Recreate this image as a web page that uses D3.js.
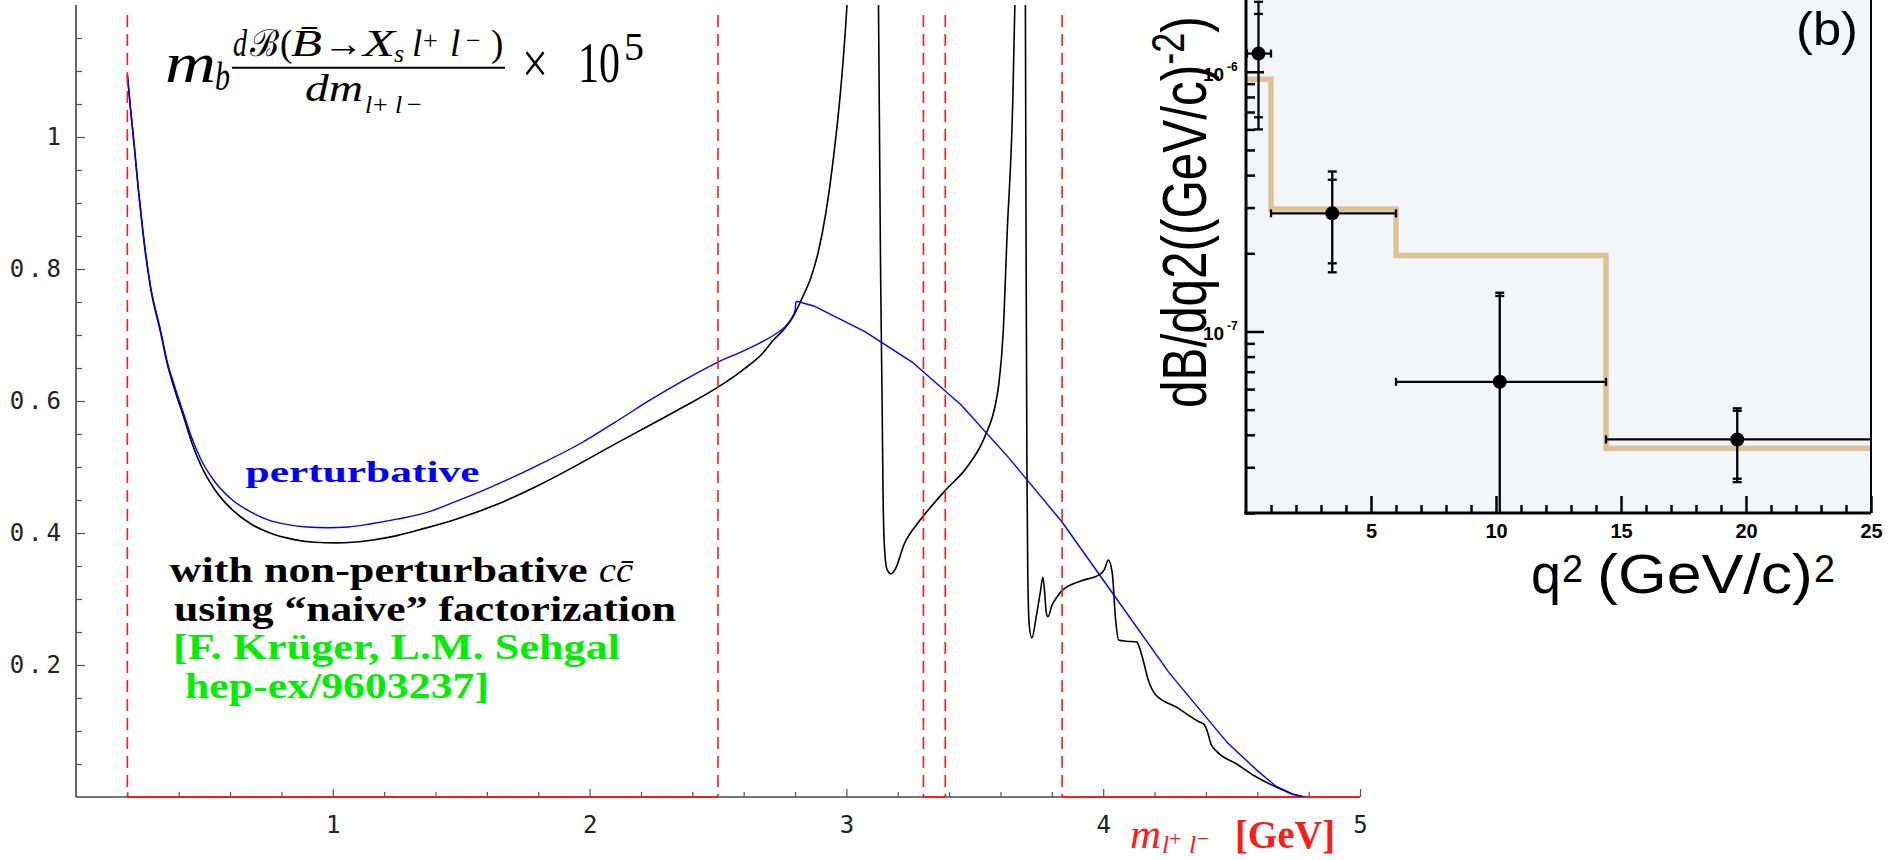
<!DOCTYPE html>
<html>
<head>
<meta charset="utf-8">
<script src="https://cdn.jsdelivr.net/npm/d3@7"></script>
<style>
  body { margin: 0; background: #fff; }
  svg { display: block; }
</style>
</head>
<body>
<div class="canvas"></div>
<script>
// ---- data, left panel: dB/dm spectrum (x 1e5) ----
const mass_full = [0.2, 0.213, 0.226, 0.243, 0.261, 0.29, 0.33, 0.355, 0.382, 0.42, 0.45, 0.487, 0.54, 0.609, 0.68, 0.748, 0.85, 0.93, 1.01,
  1.15, 1.25, 1.357, 1.48, 1.618, 1.8, 1.966, 2.1, 2.238, 2.37, 2.5, 2.6, 2.673, 2.715, 2.76, 2.79, 2.83, 2.86, 2.89, 2.92, 2.95,
  2.975, 2.99, 3.005, 3.03, 3.097, 3.12, 3.125, 3.133, 3.139, 3.143, 3.148, 3.158, 3.174, 3.19, 3.226, 3.278, 3.296, 3.386,
  3.47, 3.539, 3.583, 3.594, 3.61, 3.626, 3.648, 3.656, 3.672, 3.686, 3.695, 3.697, 3.700, 3.703, 3.706, 3.712, 3.722, 3.74, 3.755,
  3.765, 3.772, 3.778, 3.785, 3.80, 3.82, 3.838, 3.91, 3.985, 4.005, 4.02, 4.035, 4.048, 4.06, 4.09, 4.13, 4.15, 4.175, 4.20, 4.29,
  4.373, 4.393, 4.405, 4.42, 4.445, 4.52, 4.585, 4.68, 4.74, 4.782];
const rate_full = [1.094, 1.04, 0.99, 0.92, 0.854, 0.772, 0.703, 0.657, 0.62, 0.575, 0.538, 0.502, 0.466, 0.435, 0.414, 0.401, 0.39, 0.386, 0.385,
  0.389, 0.396, 0.407, 0.421, 0.44, 0.472, 0.506, 0.535, 0.564, 0.592, 0.621, 0.648, 0.672, 0.692, 0.71, 0.726, 0.758, 0.785, 0.825, 0.885, 0.97,
  1.06, 1.13, 1.22, 1.5, 4.0, 1.6, 1.2, 0.8, 0.6, 0.45, 0.38, 0.345, 0.338, 0.345, 0.384, 0.415, 0.424, 0.465,
  0.50, 0.546, 0.60, 0.627, 0.70, 0.854, 1.056, 1.2, 1.6, 4.0, 1.6, 1.2, 0.8, 0.5, 0.35, 0.26, 0.241, 0.275, 0.31,
  0.333, 0.31, 0.28, 0.273, 0.29, 0.303, 0.312, 0.327, 0.337, 0.345, 0.359, 0.34, 0.27, 0.238, 0.236, 0.235, 0.215, 0.178, 0.157, 0.135,
  0.114, 0.11, 0.1, 0.08, 0.068, 0.05, 0.033, 0.014, 0.004, 0];

const mass_pert = [0.2, 0.213, 0.226, 0.243, 0.261, 0.29, 0.33, 0.355, 0.382, 0.42, 0.45, 0.487, 0.54, 0.609, 0.68, 0.748, 0.82, 0.9, 0.98,
  1.06, 1.15, 1.25, 1.357, 1.48, 1.618, 1.8, 1.966, 2.1, 2.238, 2.37, 2.5, 2.6, 2.673, 2.73, 2.76, 2.79, 2.80, 2.803, 2.807, 2.873,
  3.072, 3.256, 3.447, 3.63, 3.839, 4.047, 4.257, 4.484, 4.6, 4.674, 4.74, 4.785];
const rate_pert = [1.094, 1.04, 0.99, 0.92, 0.856, 0.775, 0.706, 0.66, 0.625, 0.58, 0.545, 0.511, 0.478, 0.45, 0.432, 0.42, 0.413, 0.409, 0.408,
  0.409, 0.414, 0.421, 0.43, 0.448, 0.47, 0.503, 0.536, 0.568, 0.602, 0.632, 0.659, 0.676, 0.690, 0.703, 0.712, 0.728, 0.737, 0.750, 0.751, 0.744,
  0.705, 0.659, 0.594, 0.515, 0.417, 0.303, 0.188, 0.082, 0.04, 0.016, 0.004, 0];

const cut_lines = [0.2, 2.5, 3.3, 3.385, 3.84];
const kept_windows = [[0.2, 2.5], [3.3, 3.385], [3.84, 5]];
const x_ticks_left = [1, 2, 3, 4, 5];
const y_ticks_left = [0.2, 0.4, 0.6, 0.8, 1.0];

// ---- data, right panel (b): dB/dq2 ----
const bin_edges = [0, 1, 6, 14.4, 25];
const bin_values = [9.35e-7, 2.96e-7, 1.96e-7, 3.55e-8];
const q2_center = [0.5, 3.45, 10.15, 19.65];
const q2_lo = [0.04, 1, 6, 14.4];
const q2_hi = [1, 6, 14.4, 25];
const dB_value = [1.175e-6, 2.85e-7, 6.4e-8, 3.84e-8];
const stat_lo = [6.68e-7, 1.83e-7, 1e-9, 2.71e-8];
const stat_hi = [1.67e-6, 3.84e-7, 1.37e-7, 4.95e-8];
const tot_lo = [6.0e-7, 1.69e-7, 1e-9, 2.63e-8];
const tot_hi = [1.86e-6, 4.13e-7, 1.41e-7, 5.06e-8];
const q2_ticks = [5, 10, 15, 20, 25];
const decade_ticks = [1e-7, 1e-6];
const decade_labels = ["-7", "-6"];

// Settings
const view_port_width = 1900;
const view_port_height = 860;
const serif = "'Liberation Serif', 'DejaVu Serif', serif";
const sans = "'Liberation Sans', Arial, sans-serif";
const mono = "'DejaVu Sans Mono', monospace";
const red = "#ff1a1a";
const green = "#00ee00";

const svg = d3.select(".canvas").append("svg")
  .attr("width", view_port_width)
  .attr("height", view_port_height);

function add_text(x, y, str, size, opts) {
  var t = svg.append("text")
    .attr("x", x).attr("y", y)
    .attr("font-size", size + "px")
    .attr("font-family", serif)
    .text(str);
  for (var k in opts) t.attr(k, opts[k]);
  return t;
}
function fit(len, extra) {
  return Object.assign({ textLength: len, lengthAdjust: "spacingAndGlyphs" }, extra || {});
}

// ================= left panel =================
var xScale = d3.scaleLinear().domain([0, 5]).range([76, 1360]);
var yScale = d3.scaleLinear().domain([0, 1.2]).range([797, 5]);

svg.append("defs").append("clipPath").attr("id", "clip-left")
  .append("rect")
  .attr("x", xScale(0)).attr("y", yScale(1.2))
  .attr("width", xScale(5) - xScale(0)).attr("height", yScale(0) - yScale(1.2));

// x axis line (grey) with red allowed windows
svg.append("line")
  .attr("x1", xScale(0)).attr("x2", xScale(5))
  .attr("y1", yScale(0)).attr("y2", yScale(0))
  .attr("stroke", "#777").attr("stroke-width", 2);
svg.selectAll("line.window").data(kept_windows).enter().append("line")
  .attr("class", "window")
  .attr("x1", d => xScale(d[0])).attr("x2", d => xScale(d[1]))
  .attr("y1", yScale(0)).attr("y2", yScale(0))
  .attr("stroke", red).attr("stroke-width", 2);

// y axis line
svg.append("line")
  .attr("x1", xScale(0)).attr("x2", xScale(0))
  .attr("y1", yScale(0)).attr("y2", yScale(1.2))
  .attr("stroke", "#333").attr("stroke-width", 1.5);

// minor / major ticks via d3 axes
var minor_x = d3.range(1, 25).map(i => i * 0.2).filter(v => Math.abs(v - Math.round(v)) > 1e-6);
svg.append("g").attr("transform", `translate(0,${yScale(0)})`)
  .call(d3.axisBottom(xScale).tickValues(minor_x).tickSize(-5).tickFormat(""))
  .call(g => g.select(".domain").remove())
  .call(g => g.selectAll("line").attr("stroke", "#555").attr("stroke-width", 1.2));
svg.append("g").attr("transform", `translate(0,${yScale(0)})`)
  .call(d3.axisBottom(xScale).tickValues(x_ticks_left).tickSize(-8).tickPadding(19).tickFormat(d3.format("d")))
  .call(g => g.select(".domain").remove())
  .call(g => g.selectAll("line").attr("stroke", "#555").attr("stroke-width", 1.2))
  .call(g => g.selectAll("text").attr("font-family", mono).attr("font-size", "24px").attr("fill", "#222"));

var minor_y = d3.range(1, 24).map(i => i * 0.05).filter((v, i) => (i + 1) % 4 != 0);
svg.append("g").attr("transform", `translate(${xScale(0)},0)`)
  .call(d3.axisLeft(yScale).tickValues(minor_y).tickSize(-6).tickFormat(""))
  .call(g => g.select(".domain").remove())
  .call(g => g.selectAll("line").attr("stroke", "#555").attr("stroke-width", 1.2));
svg.append("g").attr("transform", `translate(${xScale(0)},0)`)
  .call(d3.axisLeft(yScale).tickValues(y_ticks_left).tickSize(-9).tickPadding(11)
    .tickFormat(d => d == 1 ? "1" : d.toFixed(1)))
  .call(g => g.select(".domain").remove())
  .call(g => g.selectAll("line").attr("stroke", "#555").attr("stroke-width", 1.2))
  .call(g => g.selectAll("text").attr("font-family", mono).attr("font-size", "24px")
    .attr("letter-spacing", "4px").attr("fill", "#222"));

// Adding the curves
var lineSmooth = d3.line().x(d => xScale(d[0])).y(d => yScale(d[1])).curve(d3.curveMonotoneX);
var lineStraight = d3.line().x(d => xScale(d[0])).y(d => yScale(d[1]));

var plot = svg.append("g").attr("clip-path", "url(#clip-left)");
plot.append("path")
  .attr("d", lineSmooth(d3.zip(mass_full, rate_full)))
  .attr("fill", "none").attr("stroke", "black").attr("stroke-width", 1.6);

// perturbative: smooth bowl up to the kink, then straight pieces
var pert = d3.zip(mass_pert, rate_pert);
var kink = mass_pert.indexOf(2.807);
plot.append("path")
  .attr("d", lineSmooth(pert.slice(0, kink)))
  .attr("fill", "none").attr("stroke", "#0000ff").attr("stroke-width", 1.4);
plot.append("path")
  .attr("d", lineStraight(pert.slice(kink - 1)))
  .attr("fill", "none").attr("stroke", "#0000ff").attr("stroke-width", 1.4);

// dashed cut lines
svg.selectAll("line.cut").data(cut_lines).enter().append("line")
  .attr("class", "cut")
  .attr("x1", d => xScale(d)).attr("x2", d => xScale(d))
  .attr("y1", 15).attr("y2", yScale(0))
  .attr("stroke", red).attr("stroke-width", 1.6)
  .attr("stroke-dasharray", "12,7");

// formula at the top
var it = { "font-style": "italic" };
add_text(165, 82, "m", 56, fit(51, it));
add_text(215, 90, "b", 40, fit(15, it));
add_text(233, 56, "d", 37, fit(14, it));
add_text(250, 56, "\u212C", 37, fit(29, { "font-family": "'DejaVu Serif', serif" }));
add_text(280, 56, "(", 37, {});
add_text(291, 56, "B\u0304", 37, fit(31, it));
add_text(323, 56, "\u2192", 37, fit(40));
add_text(363, 56, "X", 37, fit(32, it));
add_text(394, 62, "s", 26, it);
add_text(412, 56, "l", 37, it);
add_text(423, 49, "+", 26, {});
add_text(450, 56, "l", 37, it);
add_text(466, 49, "\u2212", 26, {});
add_text(491, 56, ")", 37, {});
svg.append("line").attr("x1", 232).attr("x2", 505).attr("y1", 67.7).attr("y2", 67.7)
  .attr("stroke", "black").attr("stroke-width", 2);
add_text(305, 101, "dm", 38, fit(58, it));
add_text(365, 113, "l", 26, it);
add_text(373, 113, "+", 26, {});
add_text(395, 113, "l", 26, it);
add_text(407, 113, "\u2212", 26, {});
add_text(522, 83, "\u00D7", 60, fit(26));
add_text(578, 82, "10", 58, fit(42));
add_text(624, 60, "5", 40, {});

// annotations
add_text(245.5, 481.7, "perturbative", 30, fit(234, { "font-weight": "bold", fill: "#0000ff" }));
add_text(169.6, 581.7, "with non-perturbative", 36, fit(418, { "font-weight": "bold" }));
add_text(599, 581.7, "cc\u0304", 36, fit(34, it));
add_text(174, 620.7, "using \u201Cnaive\u201D factorization", 36, fit(502, { "font-weight": "bold" }));
add_text(173, 659.3, "[F. Kr\u00FCger, L.M. Sehgal", 36, fit(447, { "font-weight": "bold", fill: green }));
add_text(185, 697.5, "hep-ex/9603237]", 36, fit(304, { "font-weight": "bold", fill: green }));

// x axis label
add_text(1130, 848, "m", 40, fit(31, Object.assign({ fill: red }, it)));
add_text(1162, 853, "l", 26, Object.assign({ fill: red }, it));
add_text(1169, 846, "+", 22, { fill: red });
add_text(1189, 853, "l", 26, Object.assign({ fill: red }, it));
add_text(1197, 846, "\u2212", 22, { fill: red });
add_text(1235, 848, "[GeV]", 40, fit(100, { fill: red, "font-weight": "bold" }));

// ================= right panel (b) =================
var qx = d3.scaleLinear().domain([0, 25]).range([1246, 1871]);
var qy = d3.scaleLog().domain([2e-8, 2e-6]).range([513, -6.4]).clamp(true);

svg.append("rect")
  .attr("x", qx(0)).attr("y", -10)
  .attr("width", qx(25) - qx(0)).attr("height", qy(2e-8) + 10)
  .attr("fill", "#f3f6f9");

// histogram (prediction)
var histLine = d3.line().x(d => qx(d[0])).y(d => qy(d[1])).curve(d3.curveStepAfter);
var hist_pts = bin_edges.map((e, i) => [e, bin_values[Math.min(i, bin_values.length - 1)]]);
svg.append("path")
  .attr("d", histLine(hist_pts))
  .attr("fill", "none").attr("stroke", "#dfc196").attr("stroke-width", 5.5);

// frame
svg.append("line").attr("x1", qx(25)).attr("x2", qx(25)).attr("y1", -10).attr("y2", qy(2e-8))
  .attr("stroke", "black").attr("stroke-width", 2);

// ticks
var minor_q = d3.range(1, 25).filter(v => v % 5 != 0);
svg.append("g").attr("transform", `translate(0,${qy(2e-8)})`)
  .call(d3.axisBottom(qx).tickValues(minor_q).tickSize(-8).tickFormat(""))
  .call(g => g.select(".domain").remove())
  .call(g => g.selectAll("line").attr("stroke", "black").attr("stroke-width", 2.5));
svg.append("g").attr("transform", `translate(0,${qy(2e-8)})`)
  .call(d3.axisBottom(qx).tickValues(q2_ticks).tickSize(-17).tickPadding(11).tickFormat(d3.format("d")))
  .call(g => g.select(".domain").remove())
  .call(g => g.selectAll("line").attr("stroke", "black").attr("stroke-width", 2.5))
  .call(g => g.selectAll("text").attr("font-family", sans).attr("font-weight", "bold")
    .attr("font-size", "20px").attr("fill", "black"));

var minor_log = [];
[1e-8, 1e-7, 1e-6].forEach(dec => d3.range(2, 10).forEach(k => {
  var v = k * dec;
  if (v >= 2e-8 && v <= 2e-6) minor_log.push(v);
}));
svg.append("g").attr("transform", `translate(${qx(0)},0)`)
  .call(d3.axisLeft(qy).tickValues(minor_log).tickSize(-9).tickFormat(""))
  .call(g => g.select(".domain").remove())
  .call(g => g.selectAll("line").attr("stroke", "black").attr("stroke-width", 2.5));
svg.append("g").attr("transform", `translate(${qx(0)},0)`)
  .call(d3.axisLeft(qy).tickValues(decade_ticks).tickSize(-18).tickFormat(""))
  .call(g => g.select(".domain").remove())
  .call(g => g.selectAll("line").attr("stroke", "black").attr("stroke-width", 2.5));

decade_ticks.forEach((v, i) => {
  svg.append("text").attr("x", 1203).attr("y", qy(v) + 9)
    .attr("font-family", sans).attr("font-weight", "bold").attr("font-size", "19px").text("10");
  svg.append("text").attr("x", 1227).attr("y", qy(v) - 1)
    .attr("font-family", sans).attr("font-weight", "bold").attr("font-size", "12px").text(decade_labels[i]);
});

// axis lines
svg.append("line").attr("x1", qx(0)).attr("x2", qx(0)).attr("y1", -10).attr("y2", qy(2e-8) + 1.5)
  .attr("stroke", "black").attr("stroke-width", 3);
svg.append("line").attr("x1", qx(0) - 1.5).attr("x2", qx(25)).attr("y1", qy(2e-8)).attr("y2", qy(2e-8))
  .attr("stroke", "black").attr("stroke-width", 3);

// Adding the data points with error bars
var pts = d3.range(q2_center.length).map(i => ({
  x: q2_center[i], lo: q2_lo[i], hi: q2_hi[i], y: dB_value[i],
  s0: stat_lo[i], s1: stat_hi[i], t0: tot_lo[i], t1: tot_hi[i]
}));
var eb = svg.append("g").attr("stroke", "black").attr("stroke-width", 2.3);
eb.selectAll("line.vbar").data(pts).enter().append("line")
  .attr("x1", d => qx(d.x)).attr("x2", d => qx(d.x))
  .attr("y1", d => qy(d.t0)).attr("y2", d => qy(d.t1));
eb.selectAll("line.hbar").data(pts).enter().append("line")
  .attr("x1", d => qx(d.lo)).attr("x2", d => qx(d.hi))
  .attr("y1", d => qy(d.y)).attr("y2", d => qy(d.y));
["s0", "s1", "t0", "t1"].forEach(k => {
  eb.selectAll("line.cap-" + k).data(pts.filter(d => d[k] > 2e-8)).enter().append("line")
    .attr("x1", d => qx(d.x) - 4.5).attr("x2", d => qx(d.x) + 4.5)
    .attr("y1", d => qy(d[k])).attr("y2", d => qy(d[k]));
});
["lo", "hi"].forEach(k => {
  eb.selectAll("line.hcap-" + k).data(pts.filter(d => d[k] < 25)).enter().append("line")
    .attr("x1", d => qx(d[k])).attr("x2", d => qx(d[k]))
    .attr("y1", d => qy(d.y) - 4).attr("y2", d => qy(d.y) + 4);
});
svg.selectAll("circle.pt").data(pts).enter().append("circle")
  .attr("cx", d => qx(d.x)).attr("cy", d => qy(d.y)).attr("r", 7).attr("fill", "black");

// labels of panel b
svg.append("text").attr("x", 1796).attr("y", 45)
  .attr("font-family", sans).attr("font-size", "46px")
  .attr("textLength", 62).attr("lengthAdjust", "spacingAndGlyphs").text("(b)");

var ytitle = svg.append("text")
  .attr("transform", "translate(1206,408) rotate(-90) scale(0.95,1.2)")
  .attr("font-family", sans).attr("font-size", "52px");
ytitle.append("tspan").text("dB/dq2((GeV/c)");
ytitle.append("tspan").attr("font-size", "38px").attr("dy", -18).text("-2");
ytitle.append("tspan").attr("dy", 18).text(")");

svg.append("text").attr("x", 1531).attr("y", 593).attr("font-family", sans).attr("font-size", "56px")
  .attr("textLength", 30).attr("lengthAdjust", "spacingAndGlyphs").text("q");
svg.append("text").attr("x", 1562).attr("y", 582).attr("font-family", sans).attr("font-size", "38px")
  .attr("textLength", 21).attr("lengthAdjust", "spacingAndGlyphs").text("2");
svg.append("text").attr("x", 1597).attr("y", 593).attr("font-family", sans).attr("font-size", "56px")
  .attr("textLength", 216).attr("lengthAdjust", "spacingAndGlyphs").text("(GeV/c)");
svg.append("text").attr("x", 1814).attr("y", 582).attr("font-family", sans).attr("font-size", "38px")
  .attr("textLength", 21).attr("lengthAdjust", "spacingAndGlyphs").text("2");
</script>
</body>
</html>
